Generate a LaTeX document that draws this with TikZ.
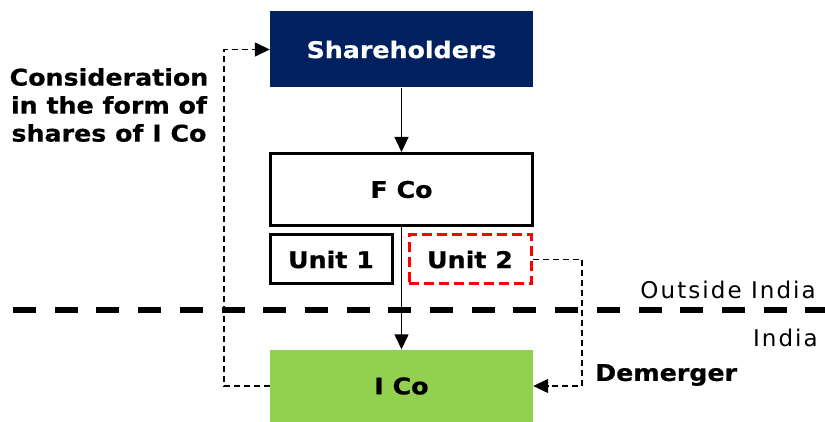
\documentclass[tikz,border=0pt]{standalone}
\usepackage{fontspec}
\setmainfont{DejaVu Sans}
\newfontfamily\widebold{DejaVu Sans Bold}[FakeStretch=1.1,FakeBold=0.6]
\newfontfamily\spacedsans{DejaVu Sans}[LetterSpace=9]
\usetikzlibrary{arrows.meta}
\definecolor{shnavy}{RGB}{0,32,96}
\definecolor{icogreen}{RGB}{146,208,80}
\tikzset{
  entity/.style={minimum width=263pt,minimum height=76pt,inner sep=0pt,
    font=\widebold\fontsize{23}{28}\selectfont},
  unitbox/.style={minimum width=122pt,minimum height=49pt,inner sep=0pt,
    line width=3pt,font=\widebold\fontsize{23}{28}\selectfont},
  flow/.style={line width=1.4pt,-{Triangle[length=15pt,width=14pt]}},
  dflow/.style={line width=1.4pt,dash pattern=on 6pt off 4pt,-{Triangle[length=15pt,width=14pt]}},
  lbl/.style={font=\spacedsans\fontsize{23}{28}\selectfont,inner sep=0pt},
  blbl/.style={font=\widebold\fontsize{23}{28}\selectfont,inner sep=0pt}
}
\begin{document}
\begin{tikzpicture}[x=1pt,y=-1pt]
\useasboundingbox (0,0) rectangle (825,422);
% entities
\node[entity,fill=shnavy,text=white] (sh) at (401.5,49.5) {Shareholders};
\node[entity,draw,line width=3pt,minimum width=262pt,minimum height=72pt] (fco) at (401.5,189.5) {F Co};
\node[unitbox,draw] (u1) at (331,259.5) {Unit 1};
\node[unitbox,draw=red,dash pattern=on 10pt off 5pt] (u2) at (470,259.5) {Unit 2};
\node[entity,fill=icogreen,minimum height=73pt] (ico) at (401.5,386) {I Co};
% border
\draw[line width=6pt,dash pattern=on 23pt off 18.7pt] (13,310) -- (825,310);
\node[lbl,anchor=east] (out) at (816,290) {Outside India};
\node[lbl,anchor=east] (ind) at (818,338) {India};
% flows
\coordinate (lft) at (224,0);
\coordinate (rgt) at (582,0);
\draw[flow] (sh.south) -- (fco.north);
\draw[flow] (fco.south) -- (ico.north);
\draw[dflow] (ico.west) -- (ico.west -| lft) |- (sh.west);
\draw[dflow] (u2.east) -- (u2.east -| rgt) |- (ico.east);
\node[blbl,anchor=west] (dm) at (595,375) {Demerger};
\node[blbl,align=center] (cons) at (109,105) {Consideration\\in the form of\\shares of I Co};
\end{tikzpicture}
\end{document}
